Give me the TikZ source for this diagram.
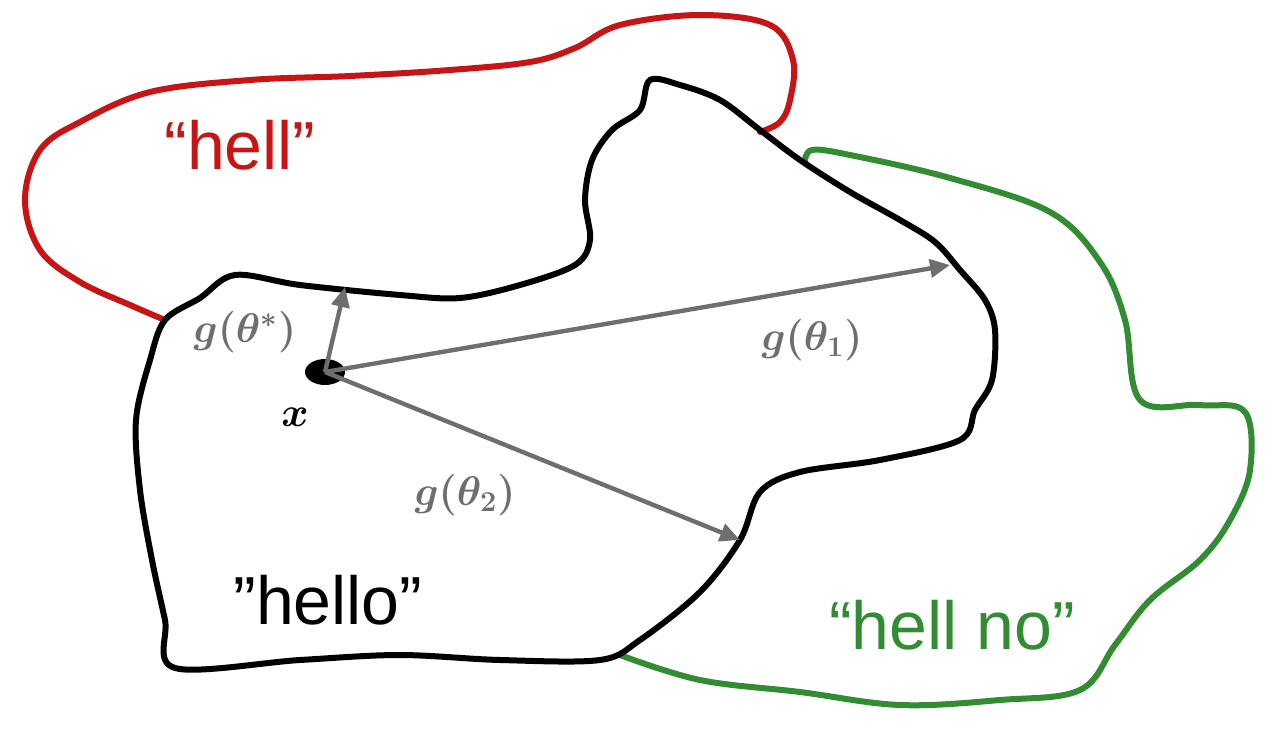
\documentclass[tikz,border=0pt]{standalone}
\usepackage{fontspec}
\usepackage{amsmath,bm}
\newfontfamily\lsans{Liberation Sans}
\usetikzlibrary{arrows.meta,shapes.geometric}
\definecolor{hred}{RGB}{200,20,20}
\definecolor{hgreen}{RGB}{50,140,50}
\definecolor{agray}{RGB}{110,110,110}
\tikzset{
 outline/.style={line width=3pt, line join=round, line cap=round},
 vec/.style={agray, line width=2.2pt, -{Triangle[length=10pt,width=9pt]}},
 lab/.style={agray, font=\fontsize{22}{26}\selectfont\boldmath},
 word/.style={font=\lsans\fontsize{34}{40}\selectfont}
}
\begin{document}
\begin{tikzpicture}[x=0.5pt,y=-0.5pt]
\useasboundingbox (0,0) rectangle (1274,733);
\draw[outline, hred] plot[smooth, tension=0.6] coordinates {(165,320) (130,305) (80,282) (40,250) (25,200) (40,150) (80,122) (150,92) (250,80) (350,76) (450,70) (530,62) (575,48) (620,25) (700,15) (770,25) (793,60) (790,100) (780,122) (760,132)};
\draw[outline, hgreen] plot[smooth, tension=0.6] coordinates {(805,162) (812,150) (850,155) (950,178) (1050,212) (1100,262) (1125,320) (1140,400) (1200,405) (1245,412) (1250,470) (1230,520) (1200,560) (1150,600) (1115,645) (1080,690) (1000,700) (900,705) (800,692) (700,680) (620,655)};
\draw[outline, black] plot[smooth cycle, tension=0.55] coordinates {(165,320) (200,298) (235,275) (300,285) (400,295) (460,298) (520,285) (575,265) (590,240) (585,200) (592,160) (612,130) (640,110) (650,80) (680,85) (720,100) (760,130) (800,160) (850,192) (900,220) (935,242) (960,270) (985,300) (995,330) (992,380) (975,410) (960,440) (880,460) (800,472) (760,492) (740,540) (700,592) (640,640) (600,660) (500,660) (400,655) (300,660) (175,668) (165,620) (152,560) (140,490) (136,420) (150,360)};
\node[fill=black, ellipse, minimum width=20pt, minimum height=13pt, inner sep=0pt] (x) at (325,372) {};
\coordinate (t0) at (345,287);
\coordinate (t1) at (950,265);
\coordinate (t2) at (740,540);
\draw[vec] (x.center) -- (t0);
\draw[vec] (x.center) -- (t1);
\draw[vec] (x.center) -- (t2);
\node[lab] (l0) at (245,332) {$g(\theta^*)$};
\node[lab] (l1) at (812,340) {$g(\theta_1)$};
\node[lab] (l2) at (465,495) {$g(\theta_2)$};
\node[font=\fontsize{22}{26}\selectfont\boldmath] (lx) at (295,417) {$x$};
\node[word, hred] (w1) at (240,145) {“hell”};
\node[word] (w2) at (328,600) {”hello”};
\node[word, hgreen] (w3) at (952,625) {“hell no”};
\end{tikzpicture}
\end{document}
